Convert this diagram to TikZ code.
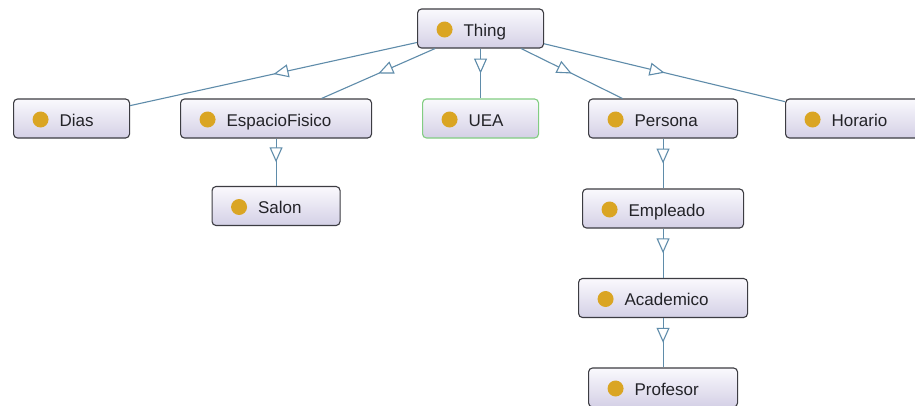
\documentclass[tikz,border=0pt]{standalone}
\usepackage{fontspec}
\setmainfont{Liberation Sans}
\usetikzlibrary{arrows.meta,decorations.markings}
\definecolor{boxborder}{RGB}{60,60,66}
\definecolor{boxtop}{RGB}{250,249,253}
\definecolor{boxbot}{RGB}{212,208,230}
\definecolor{dotc}{RGB}{218,165,35}
\definecolor{edgec}{RGB}{95,140,170}
\definecolor{txtc}{RGB}{35,35,40}
\definecolor{selc}{RGB}{130,205,130}
\newcommand{\clsbox}[2]{\makebox[#1pt][l]{\hspace{46pt}#2}}
\begin{document}
\begin{tikzpicture}[x=1pt,y=-1pt,
  cls/.style={shape=rectangle, rounded corners=4pt, draw=boxborder, line width=1.1pt,
    top color=boxtop, bottom color=boxbot, minimum height=39pt, inner sep=0pt,
    text height=17pt, text depth=2pt,
    anchor=west, text=txtc, font=\fontsize{17}{19}\selectfont,
    path picture={\fill[dotc] ([xshift=27pt,yshift=-1pt]path picture bounding box.west) circle (8pt);}},
  sel/.style={draw=selc},
  isa/.style={draw=edgec, line width=1.1pt,
    decoration={markings, mark=at position 0.5 with {\arrow[edgec, line width=1.1pt]{Triangle[fill=white, length=15pt, width=13pt]}}},
    postaction={decorate}}]
\useasboundingbox (0,0) rectangle (915,405);
\fill[white] (0,0) rectangle (915,405);
\begin{scope}
\clip (0,0) rectangle (915,405);
\node[cls] (thing) at (417,28.5) {\clsbox{126}{Thing}};
\node[cls] (dias) at (13,118.5) {\clsbox{116}{Dias}};
\node[cls] (espacio) at (180,118.5) {\clsbox{191}{EspacioFisico}};
\node[cls, sel] (uea) at (422,118.5) {\clsbox{116}{UEA}};
\node[cls] (persona) at (588,118.5) {\clsbox{149}{Persona}};
\node[cls] (horario) at (785,118.5) {\clsbox{140}{Horario}};
\node[cls] (salon) at (211.5,206) {\clsbox{128}{Salon}};
\node[cls] (empleado) at (582,208.5) {\clsbox{161}{Empleado}};
\node[cls] (academico) at (578,298) {\clsbox{169}{Academico}};
\node[cls] (profesor) at (588,387.5) {\clsbox{149}{Profesor}};
\draw[isa] (thing) -- (dias);
\draw[isa] (thing) -- (espacio);
\draw[isa] (thing) -- (uea);
\draw[isa] (thing) -- (persona);
\draw[isa] (thing) -- (horario);
\draw[isa] (espacio) -- (salon);
\draw[isa] (persona) -- (empleado);
\draw[isa] (empleado) -- (academico);
\draw[isa] (academico) -- (profesor);
\end{scope}
\end{tikzpicture}
\end{document}
